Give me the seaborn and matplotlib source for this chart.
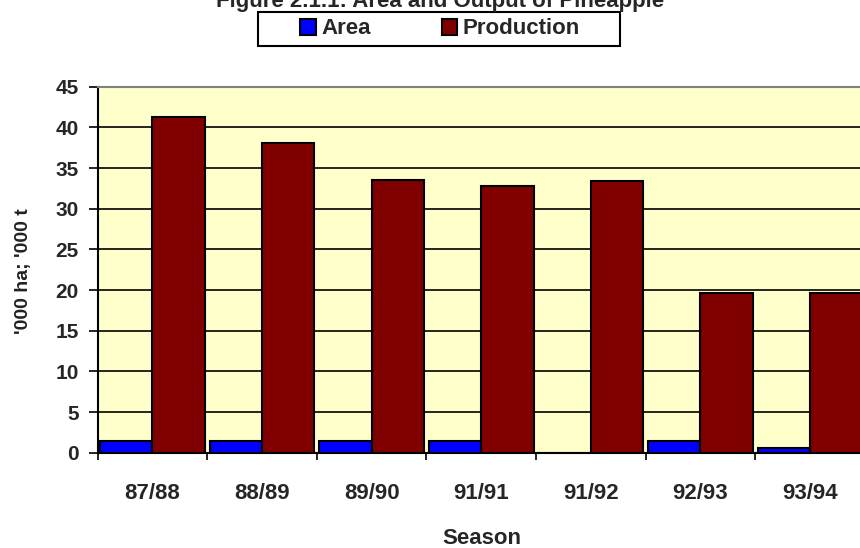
import matplotlib
matplotlib.use("Agg")
import matplotlib.pyplot as plt
import matplotlib.patches as mpatches
import seaborn as sns
import pandas as pd
import numpy as np

seasons = ['87/88', '88/89', '89/90', '91/91', '91/92', '92/93', '93/94']
area = [1.5, 1.5, 1.5, 1.5, 0.0, 1.5, 0.6]
production = [41.3, 38.1, 33.5, 32.8, 33.4, 19.6, 19.6]
series = ['Area', 'Production']
colors = ['#0000FF', '#800000']

df = pd.DataFrame({
    'Season': seasons * 2,
    'Value': area + production,
    'Series': ['Area'] * len(seasons) + ['Production'] * len(seasons),
})

sns.set_style('white')
plt.rcParams['font.family'] = ['Liberation Sans', 'DejaVu Sans']
plt.rcParams['font.weight'] = 'bold'

W, H = 860, 548
fig = plt.figure(figsize=(W / 100, H / 100), dpi=100)
# plot area runs a little past the right edge, as in the reference
ax = fig.add_axes([97.7 / W, (H - 452.7) / H, 767 / W, 366 / H])
ax.set_facecolor('#FFFFCC')

sns.barplot(data=df, x='Season', y='Value', hue='Series', order=seasons,
            hue_order=series, palette=colors, saturation=1, width=0.955, dodge=True,
            edgecolor='black', linewidth=1.5, legend=False, ax=ax, zorder=3)

ax.set_ylim(0, 45)
ax.set_xlim(-0.5, len(seasons) - 0.5)
ax.set_yticks(np.arange(0, 46, 5))
ax.yaxis.grid(True, color='black', linewidth=1.2, zorder=0)
ax.set_axisbelow(True)

ax.set_xticks(range(len(seasons)))
ax.set_xticklabels(seasons, fontsize=16, fontweight='bold')
ax.tick_params(axis='x', length=0, pad=22)
ax.set_xticks(np.arange(-0.5, len(seasons), 1), minor=True)
ax.tick_params(axis='x', which='minor', length=5, width=1.2, color='black', direction='out', bottom=True)
ax.tick_params(axis='y', length=6.5, width=1.2, color='black', direction='out', left=True, labelsize=15, pad=7)
for lbl in ax.get_yticklabels():
    lbl.set_fontweight('bold')

for side in ['left', 'bottom']:
    ax.spines[side].set_color('black')
    ax.spines[side].set_linewidth(1.5)
ax.spines['top'].set_color('#808080')
ax.spines['top'].set_linewidth(1.5)
ax.spines['right'].set_visible(False)

ax.set_xlabel('')
ax.set_ylabel('')
fig.text(482 / W, 1 - 538 / H, 'Season', ha='center', va='center', fontsize=16, fontweight='bold')
fig.text(24 / W, 1 - 271 / H, "'000 ha; '000 t", ha='center', va='center', rotation=90,
         fontsize=14, fontweight='bold', color='#222222')

fig.text(440 / W, 1 - 7 / H, 'Figure 2.1.1: Area and Output of Pineapple',
         ha='center', va='baseline', fontsize=16, fontweight='bold')

# legend box drawn by hand, entries placed inside it
fig.patches.append(mpatches.Rectangle((258 / W, 1 - 46 / H), 362 / W, 34 / H,
                                      transform=fig.transFigure, facecolor='white',
                                      edgecolor='black', linewidth=1.5, zorder=1))
handles = [mpatches.Patch(facecolor=c, edgecolor='black', linewidth=1.5, label=s)
           for s, c in zip(series, colors)]
leg = fig.legend(handles=handles, loc='center', bbox_to_anchor=(440 / W, 1 - 29 / H),
                 ncol=2, frameon=False, prop={'size': 16, 'weight': 'bold'},
                 handlelength=0.7, handleheight=0.7, handletextpad=0.25,
                 columnspacing=3.2, borderpad=0, borderaxespad=0)
leg.set_zorder(2)

fig.savefig('out.png', dpi=100)
